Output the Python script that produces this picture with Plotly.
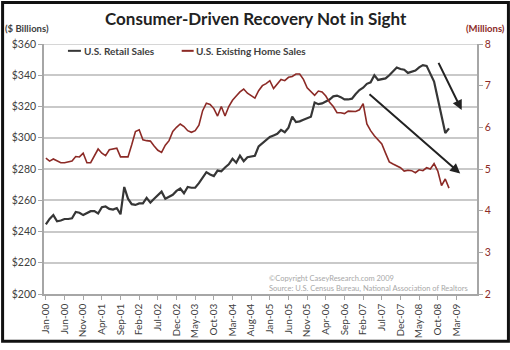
import plotly.graph_objects as go

# ---- data (Jan-00 .. Jan-09, monthly) ----
retail_sales = [
    244.5, 248, 250.5, 246.5, 247, 248, 248, 248.5, 252.5, 252, 250.5, 251.5,
    253, 253, 251.5, 255.5, 256, 254.5, 254, 255, 251, 268.5, 261, 257.5,
    257, 258, 258, 261.5, 258.5, 261, 263.5, 265.5, 261, 262.5, 263.5, 266,
    267.5, 264.5, 268.5, 268, 268, 271, 274.5, 278, 276.5, 275.5, 279, 278.5,
    281, 283, 286.5, 284, 288.5, 285, 287.5, 288, 288.5, 294.5, 296.5, 298.5,
    300.5, 301.5, 302.5, 305, 303.5, 306.5, 313.5, 310, 310.5, 311.5, 312.5, 313.5,
    322.5, 321.5, 322, 323, 324.5, 326.5, 327, 326, 324.5, 324.5, 325, 328,
    330.5, 332, 334.5, 335.5, 340, 337, 337.5, 338, 340, 342.5, 345, 344,
    343.5, 341.5, 342.5, 343, 345, 346.5, 346, 341, 336, 325, 314, 303,
    306,
]
home_sales = [
    5.26, 5.19, 5.24, 5.20, 5.15, 5.15, 5.17, 5.19, 5.30, 5.29, 5.38, 5.15,
    5.15, 5.30, 5.48, 5.38, 5.32, 5.46, 5.48, 5.50, 5.29, 5.29, 5.29, 5.58,
    5.90, 5.94, 5.70, 5.68, 5.67, 5.55, 5.45, 5.40, 5.57, 5.68, 5.90, 6.00,
    6.08, 6.02, 5.92, 5.88, 5.92, 6.05, 6.40, 6.58, 6.55, 6.45, 6.27, 6.50,
    6.27, 6.50, 6.65, 6.75, 6.85, 6.92, 6.82, 6.76, 6.70, 6.88, 7.00, 7.05,
    7.12, 6.93, 7.05, 7.15, 7.12, 7.20, 7.22, 7.28, 7.28, 7.15, 6.95, 6.85,
    6.77, 6.87, 6.85, 6.75, 6.60, 6.50, 6.35, 6.35, 6.33, 6.39, 6.38, 6.38,
    6.42, 6.57, 6.08, 5.92, 5.80, 5.70, 5.60, 5.38, 5.17, 5.12, 5.08, 5.03,
    4.95, 4.97, 4.96, 4.91, 4.98, 4.96, 5.03, 5.00, 5.13, 4.95, 4.60, 4.76,
    4.54,
]
tick_labels = [
    "Jan-00", "Jun-00", "Nov-00", "Apr-01", "Sep-01", "Feb-02", "Jul-02",
    "Dec-02", "May-03", "Oct-03", "Mar-04", "Aug-04", "Jan-05", "Jun-05",
    "Nov-05", "Apr-06", "Sep-06", "Feb-07", "Jul-07", "Dec-07", "May-08",
    "Oct-08", "Mar-09",
]
n_categories = 116
tick_step = 5

x_retail = list(range(len(retail_sales)))
x_home = list(range(len(home_sales)))
tick_vals = [i * tick_step for i in range(len(tick_labels))]

RETAIL_C = "#363636"
HOME_C = "#8c2a26"
AXIS_C = "#a6a6a6"
GRID_C = "#c9c9c9"
FONT = "Lato"

fig = go.Figure()
fig.add_trace(go.Scatter(x=x_retail, y=retail_sales, mode="lines",
                         line=dict(color=RETAIL_C, width=2.2), name="U.S. Retail Sales",
                         showlegend=False))
fig.add_trace(go.Scatter(x=x_home, y=home_sales, mode="lines", yaxis="y2",
                         line=dict(color=HOME_C, width=1.6), name="U.S. Existing Home Sales",
                         showlegend=False))

L, R, T, B = 43, 33, 44, 50
W, H = 510, 350
pw, ph = W - L - R, H - T - B

def px(xp):
    return (xp - L) / pw

def py(yp):
    return (H - B - yp) / ph

fig.update_layout(
    width=W, height=H,
    margin=dict(l=L, r=R, t=T, b=B),
    paper_bgcolor="white", plot_bgcolor="white",
    font=dict(family=FONT, color="#333333"),
    xaxis=dict(range=[-0.5, n_categories - 0.5], tickmode="array",
               tickvals=tick_vals, ticktext=tick_labels, tickangle=-90,
               tickfont=dict(size=10, family=FONT + " Bold, " + FONT, color="#404040"),
               showgrid=False, zeroline=False, showline=True, linecolor=AXIS_C,
               linewidth=1.5, ticks="outside", ticklen=4, tickcolor=AXIS_C),
    yaxis=dict(range=[200, 360], dtick=20, tickprefix="$",
               tickfont=dict(size=10.5, family=FONT + " Bold, " + FONT, color="#404040"),
               showgrid=True, gridcolor=GRID_C, gridwidth=1.5, zeroline=False,
               showline=True, linecolor=AXIS_C, linewidth=1.5,
               ticks="outside", ticklen=4, tickcolor=AXIS_C),
    yaxis2=dict(range=[2, 8], dtick=1, overlaying="y", side="right",
                tickfont=dict(size=10.5, family=FONT + " Bold, " + FONT, color=HOME_C),
                showgrid=False, zeroline=False, showline=True, linecolor=AXIS_C,
                linewidth=1.5, ticks="outside", ticklen=4, tickcolor=AXIS_C),
)

annotations = [
    dict(text="<b>Consumer-Driven Recovery Not in Sight</b>", x=px(255), y=py(18),
         xref="paper", yref="paper", showarrow=False, xanchor="center", yanchor="middle",
         font=dict(size=17, color="#222222", family=FONT)),
    dict(text="<b>($ Billions)</b>", x=px(2), y=py(36), xref="paper", yref="paper",
         showarrow=False, xanchor="left", yanchor="bottom",
         font=dict(size=9.5, color="#404040", family=FONT)),
    dict(text="<b>(Millions)</b>", x=px(507), y=py(36), xref="paper", yref="paper",
         showarrow=False, xanchor="right", yanchor="bottom",
         font=dict(size=9.5, color=HOME_C, family=FONT)),
    dict(text="<b>U.S. Retail Sales</b>", x=px(81), y=py(51), xref="paper", yref="paper",
         showarrow=False, xanchor="left", yanchor="middle",
         font=dict(size=10, color="#404040", family=FONT)),
    dict(text="<b>U.S. Existing Home Sales</b>", x=px(193), y=py(51), xref="paper",
         yref="paper", showarrow=False, xanchor="left", yanchor="middle",
         font=dict(size=10, color="#404040", family=FONT)),
    dict(text="©Copyright CaseyResearch.com 2009<br>Source: U.S. Census Bureau, National Association of Realtors",
         x=px(267), y=py(289), xref="paper", yref="paper", showarrow=False,
         xanchor="left", yanchor="middle", align="left",
         font=dict(size=7.5, color="#a8a8a8", family=FONT)),
    # trend arrows
    dict(x=111.4, y=317.7, ax=105, ay=348.9, xref="x", yref="y", axref="x", ayref="y",
         showarrow=True, arrowhead=2, arrowsize=1, arrowwidth=2, arrowcolor="#222222",
         text=""),
    dict(x=111, y=277.1, ax=86.3, ay=328.75, xref="x", yref="y", axref="x", ayref="y",
         showarrow=True, arrowhead=2, arrowsize=1, arrowwidth=2, arrowcolor="#222222",
         text=""),
]
fig.update_layout(annotations=annotations)

shapes = [
    dict(type="line", xref="paper", yref="paper", x0=px(67), x1=px(80), y0=py(51), y1=py(51),
         line=dict(color=RETAIL_C, width=2)),
    dict(type="line", xref="paper", yref="paper", x0=px(181), x1=px(193), y0=py(51), y1=py(51),
         line=dict(color=HOME_C, width=2)),
    dict(type="line", xref="paper", yref="y", x0=0, x1=1, y0=360, y1=360,
         line=dict(color=GRID_C, width=1.5)),
    dict(type="rect", xref="paper", yref="paper", x0=px(1.5), x1=px(508.5),
         y0=py(348.5), y1=py(1.5), line=dict(color="#111111", width=3)),
]
fig.update_layout(shapes=shapes)

fig.write_html("out.html")
